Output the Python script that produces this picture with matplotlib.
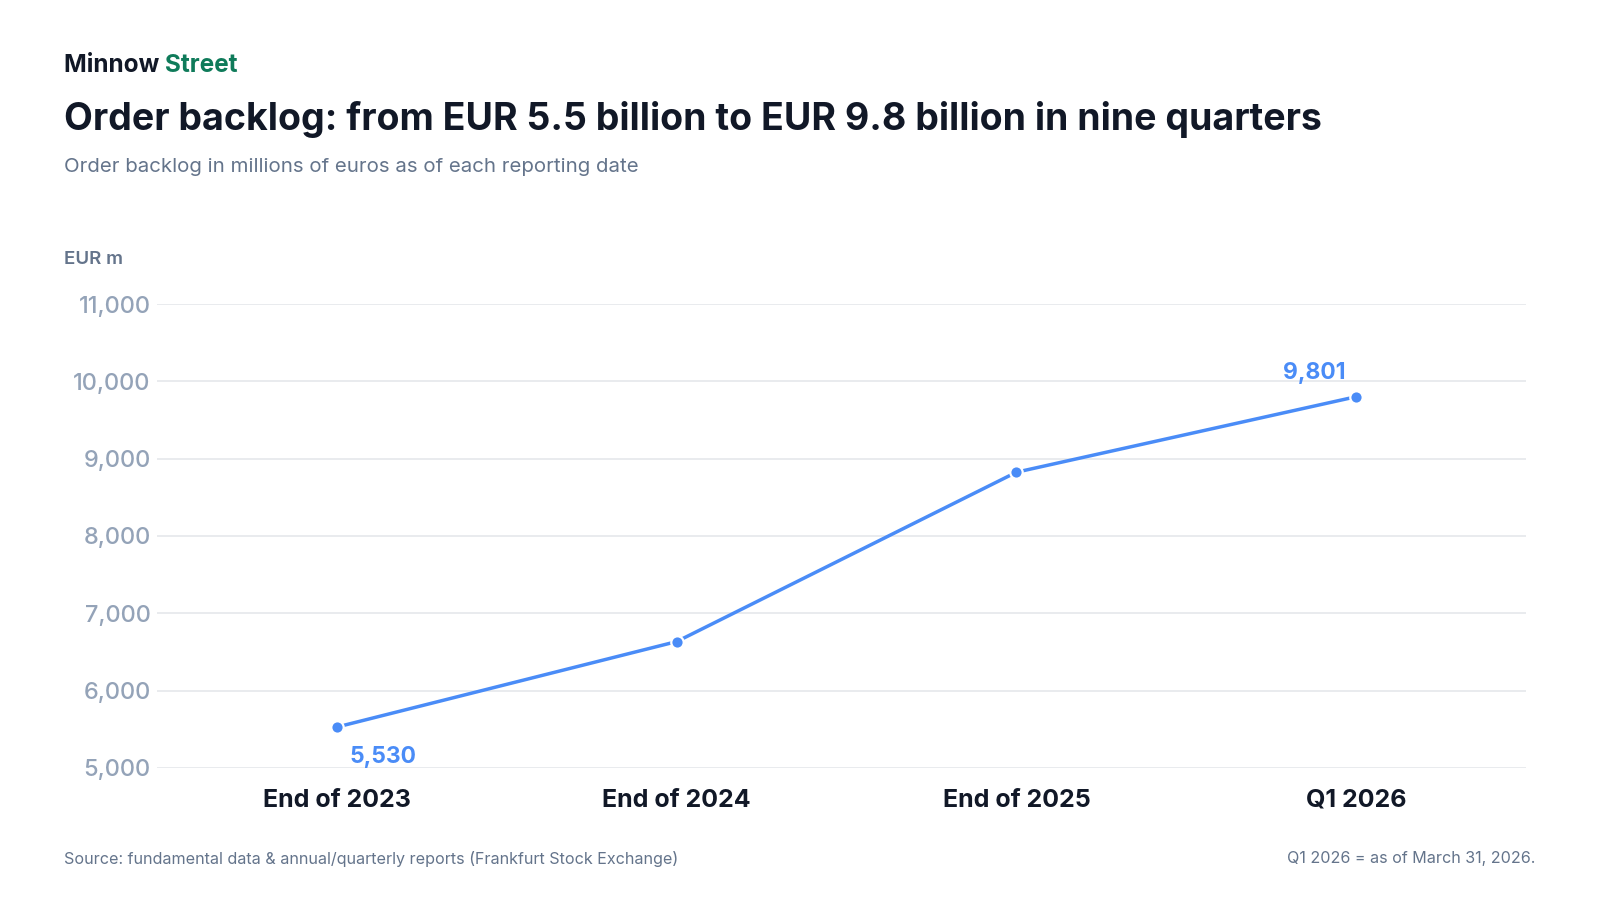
import matplotlib.pyplot as plt
from matplotlib.ticker import FuncFormatter

# order backlog, EUR m
periods = ["End of 2023", "End of 2024", "End of 2025", "Q1 2026"]
backlog = [5530, 6635, 8825, 9801]
yticks = [5000, 6000, 7000, 8000, 9000, 10000, 11000]

BLUE = "#4a8cf7"
DARK = "#111827"
GREY = "#64748b"
LIGHT = "#94a3b8"
GREEN = "#0f7b5a"

W, H = 1600, 900
plt.rcParams["font.family"] = ["Inter", "DejaVu Sans"]

fig = plt.figure(figsize=(16, 9), dpi=100)
ax = fig.add_axes([157 / W, 1 - 768 / H, (1526 - 157) / W, (768 - 304) / H])

x = list(range(len(periods)))
ax.plot(x, backlog, color=BLUE, lw=2.5, zorder=3, solid_capstyle="round")
ax.scatter(x, backlog, s=80, color=BLUE, edgecolor="white", linewidth=1.6, zorder=4)

ax.set_xlim(-0.53, 3.5)
ax.set_ylim(5000, 11000)
ax.set_yticks(yticks)
ax.yaxis.set_major_formatter(FuncFormatter(lambda v, p: f"{v:,.0f}"))
ax.set_xticks(x)
ax.set_xticklabels(periods, fontsize=18, fontweight="bold", color=DARK)
ax.tick_params(axis="x", length=0, pad=15)
ax.tick_params(axis="y", length=0, pad=4.5, labelsize=17, labelcolor=LIGHT)
for lbl in ax.get_yticklabels():
    lbl.set_fontweight("medium")
ax.grid(axis="y", color="#e5e7eb", lw=1.2)
ax.set_axisbelow(True)
for s in ax.spines.values():
    s.set_visible(False)

ax.annotate(f"{backlog[0]:,}", (x[0], backlog[0]), xytext=(9, -14), textcoords="offset points",
            ha="left", va="top", fontsize=16.5, fontweight="bold", color=BLUE)
ax.annotate(f"{backlog[-1]:,}", (x[-1], backlog[-1]), xytext=(-8, 9), textcoords="offset points",
            ha="right", va="bottom", fontsize=16.5, fontweight="bold", color=BLUE)

# header
brand = fig.text(64 / W, 1 - 65 / H, "Minnow ", fontsize=17.5, fontweight="bold", color=DARK, va="center")
fig.canvas.draw()
bb = brand.get_window_extent()
fig.text(bb.x1 / W, 1 - 65 / H, "Street", fontsize=17.5, fontweight="bold", color=GREEN, va="center")
fig.text(64 / W, 1 - 120 / H, "Order backlog: from EUR 5.5 billion to EUR 9.8 billion in nine quarters",
         fontsize=27, fontweight="bold", color=DARK, va="center")
fig.text(64 / W, 1 - 167 / H, "Order backlog in millions of euros as of each reporting date",
         fontsize=14.7, color=GREY, va="center")
fig.text(64 / W, 1 - 259 / H, "EUR m", fontsize=13.5, fontweight="semibold", color=GREY, va="center")

# footer
fig.text(64 / W, 1 - 859 / H, "Source: fundamental data & annual/quarterly reports (Frankfurt Stock Exchange)",
         fontsize=11.6, color=GREY, va="center")
fig.text(1535 / W, 1 - 859 / H, "Q1 2026 = as of March 31, 2026.",
         fontsize=11.6, color=GREY, va="center", ha="right")

fig.savefig("out.png", dpi=100, facecolor="white")
